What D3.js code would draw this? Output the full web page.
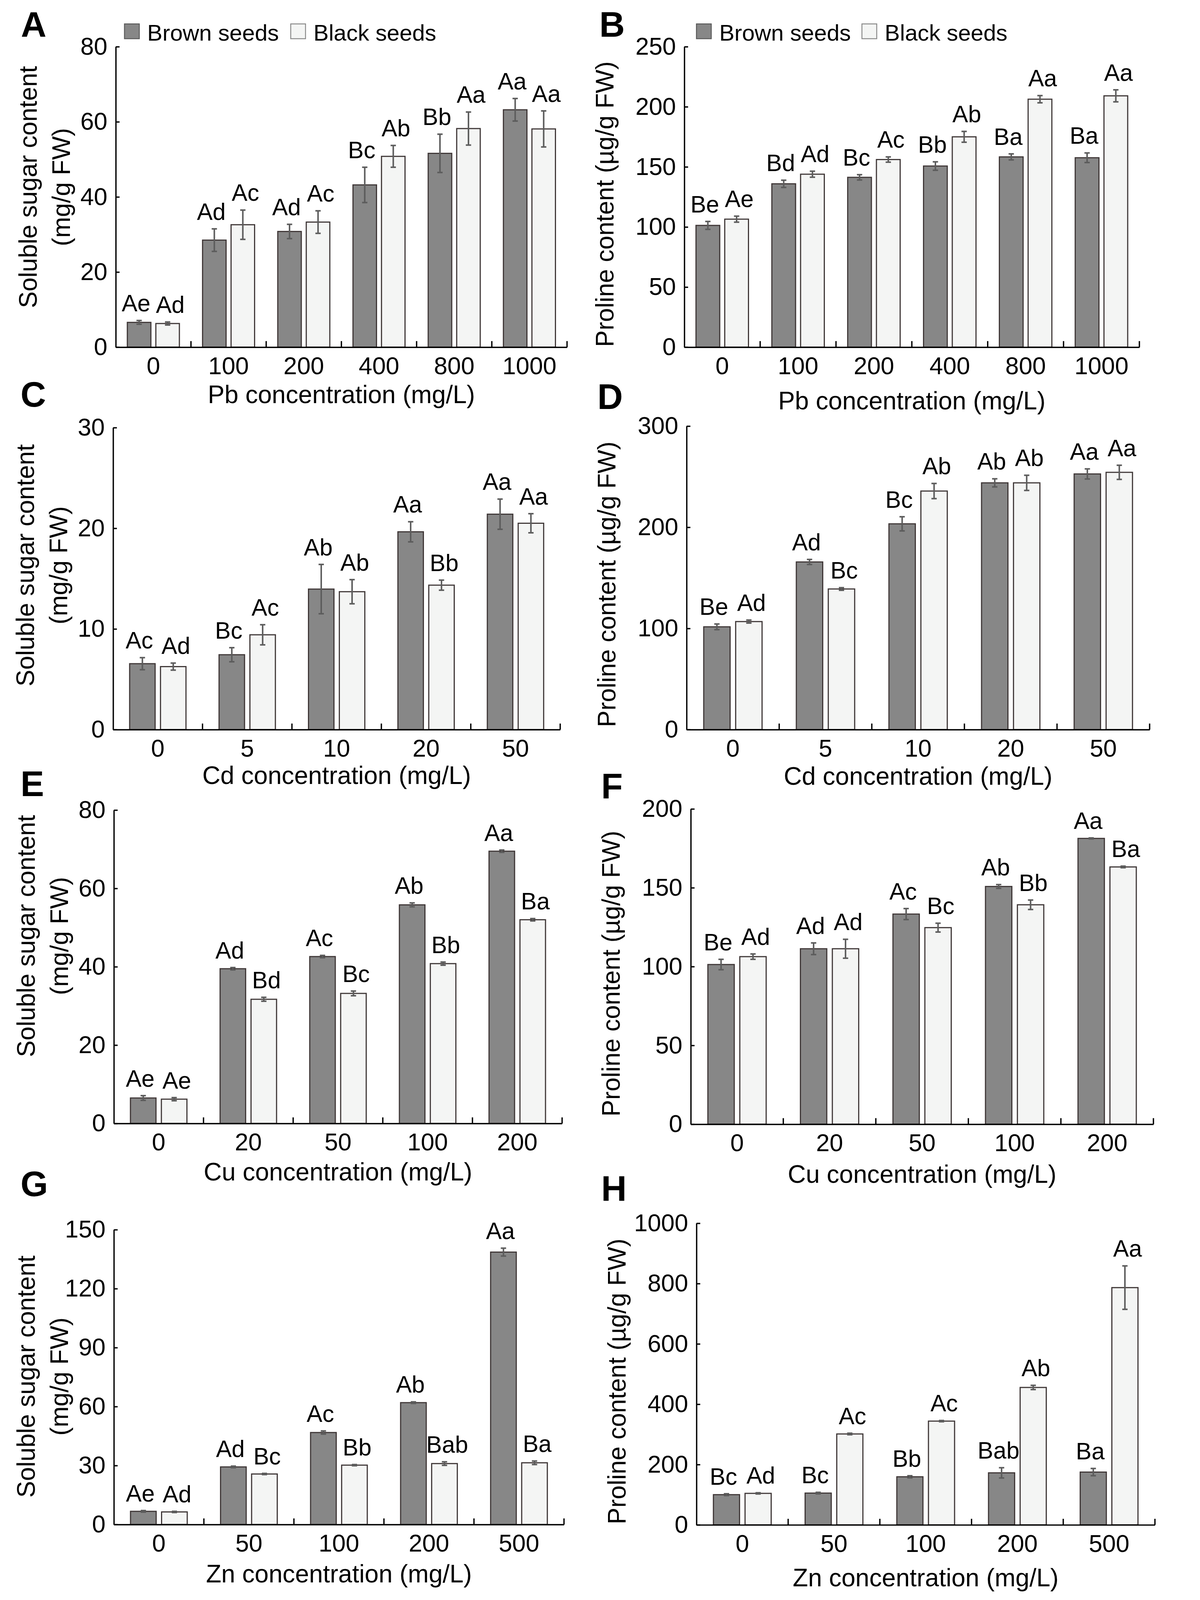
<!DOCTYPE html>
<html>
<head>
<meta charset="utf-8">
<script src="https://cdn.jsdelivr.net/npm/d3@7"></script>
<style>
  html, body { margin: 0; padding: 0; background: #fff; overflow: hidden; }
  #fig { display: block; width: 100vw; height: 100vh; }
  text { font-family: "Liberation Sans", Arial, sans-serif; }
</style>
</head>
<body>
<svg id="fig" viewBox="0 0 3071 4217" preserveAspectRatio="xMinYMin meet"></svg>
<script>
// categories
const pbConc = ["0", "100", "200", "400", "800", "1000"];
const cdConc = ["0", "5", "10", "20", "50"];
const cuConc = ["0", "20", "50", "100", "200"];
const znConc = ["0", "50", "100", "200", "500"];

// y tick labels
const sugarPbTicks = [0, 20, 40, 60, 80];
const prolinePbTicks = [0, 50, 100, 150, 200, 250];
const sugarCdTicks = [0, 10, 20, 30];
const prolineCdTicks = [0, 100, 200, 300];
const sugarCuTicks = [0, 20, 40, 60, 80];
const prolineCuTicks = [0, 50, 100, 150, 200];
const sugarZnTicks = [0, 30, 60, 90, 120, 150];
const prolineZnTicks = [0, 200, 400, 600, 800, 1000];

// A: soluble sugar, Pb
const sugarPbBrown = [6.6, 28.5, 30.8, 43.2, 51.6, 63.2];
const sugarPbBrownErr = [0.5, 3.0, 1.9, 4.7, 5.1, 3.0];
const sugarPbBlack = [6.3, 32.6, 33.3, 50.8, 58.2, 58.1];
const sugarPbBlackErr = [0.4, 3.9, 3.0, 2.9, 4.4, 4.8];
const sugarPbBrownSig = ["Ae", "Ad", "Ad", "Bc", "Bb", "Aa"];
const sugarPbBlackSig = ["Ad", "Ac", "Ac", "Ab", "Aa", "Aa"];

// B: proline, Pb
const prolinePbBrown = [101.3, 135.9, 141.3, 150.7, 158.3, 157.6];
const prolinePbBrownErr = [3.3, 3.0, 2.2, 3.5, 2.5, 4.0];
const prolinePbBlack = [106.5, 143.9, 156.1, 175.0, 206.3, 209.1];
const prolinePbBlackErr = [2.5, 2.5, 2.2, 4.5, 3.0, 5.0];
const prolinePbBrownSig = ["Be", "Bd", "Bc", "Bb", "Ba", "Ba"];
const prolinePbBlackSig = ["Ae", "Ad", "Ac", "Ab", "Aa", "Aa"];

// C: soluble sugar, Cd
const sugarCdBrown = [6.55, 7.44, 13.96, 19.65, 21.4];
const sugarCdBrownErr = [0.6, 0.7, 2.45, 1.0, 1.5];
const sugarCdBlack = [6.26, 9.42, 13.7, 14.35, 20.5];
const sugarCdBlackErr = [0.35, 1.0, 1.2, 0.5, 0.95];
const sugarCdBrownSig = ["Ac", "Bc", "Ab", "Aa", "Aa"];
const sugarCdBlackSig = ["Ad", "Ac", "Ab", "Bb", "Aa"];

// D: proline, Cd
const prolineCdBrown = [101.6, 165.7, 203.4, 243.9, 252.7];
const prolineCdBrownErr = [2.8, 2.5, 7.0, 4.0, 5.0];
const prolineCdBlack = [106.8, 139.0, 235.8, 243.9, 254.3];
const prolineCdBlackErr = [1.5, 1.3, 7.5, 7.5, 7.0];
const prolineCdBrownSig = ["Be", "Ad", "Bc", "Ab", "Aa"];
const prolineCdBlackSig = ["Ad", "Bc", "Ab", "Ab", "Aa"];

// E: soluble sugar, Cu
const sugarCuBrown = [6.5, 39.5, 42.6, 55.8, 69.5];
const sugarCuBrownErr = [0.6, 0.3, 0.3, 0.5, 0.3];
const sugarCuBlack = [6.2, 31.7, 33.2, 40.8, 52.0];
const sugarCuBlackErr = [0.4, 0.5, 0.6, 0.4, 0.3];
const sugarCuBrownSig = ["Ae", "Ad", "Ac", "Ab", "Aa"];
const sugarCuBlackSig = ["Ae", "Bd", "Bc", "Bb", "Ba"];

// F: proline, Cu
const prolineCuBrown = [101.3, 111.3, 133.3, 150.8, 181.3];
const prolineCuBrownErr = [3.3, 3.7, 3.5, 1.2, 0.3];
const prolineCuBlack = [106.3, 111.3, 124.7, 139.2, 163.2];
const prolineCuBlackErr = [1.7, 6.0, 2.8, 3.0, 0.5];
const prolineCuBrownSig = ["Be", "Ad", "Ac", "Ab", "Aa"];
const prolineCuBlackSig = ["Ad", "Ad", "Bc", "Bb", "Ba"];

// G: soluble sugar, Zn
const sugarZnBrown = [6.7, 29.3, 46.8, 62.0, 138.6];
const sugarZnBrownErr = [0.4, 0.4, 0.8, 0.4, 2.0];
const sugarZnBlack = [6.4, 25.7, 30.2, 31.0, 31.4];
const sugarZnBlackErr = [0.3, 0.3, 0.3, 0.9, 0.9];
const sugarZnBrownSig = ["Ae", "Ad", "Ac", "Ab", "Aa"];
const sugarZnBlackSig = ["Ad", "Bc", "Bb", "Bab", "Ba"];

// H: proline, Zn
const prolineZnBrown = [100.2, 105.4, 159.4, 172.5, 175.0];
const prolineZnBrownErr = [3.0, 2.5, 3.5, 17, 12];
const prolineZnBlack = [104.5, 301.4, 344.0, 455.6, 786.6];
const prolineZnBlackErr = [2.0, 2.5, 2.0, 7.0, 72];
const prolineZnBrownSig = ["Bc", "Bc", "Bb", "Bab", "Ba"];
const prolineZnBlackSig = ["Ad", "Ac", "Ac", "Ab", "Aa"];

const series = ["Brown seeds", "Black seeds"];

const sugarTitle = ["Soluble sugar content", "(mg/g FW)"];
const prolineTitle = ["Proline content (\u00b5g/g FW)"];

// layout of each panel (pixels)
const panels = [
  { tag: "A", cats: pbConc, ticks: sugarPbTicks, vals: [sugarPbBrown, sugarPbBlack], errs: [sugarPbBrownErr, sugarPbBlackErr], sig: [sugarPbBrownSig, sugarPbBlackSig],
    yTitle: sugarTitle, xTitle: "Pb concentration (mg/L)", left: 305, right: 1494, top: 123, bottom: 915, xTitleY: 1063, yTitleMid: 493, tagX: 55, tagY: 97, legend: [328, 766] },
  { tag: "B", cats: pbConc, ticks: prolinePbTicks, vals: [prolinePbBrown, prolinePbBlack], errs: [prolinePbBrownErr, prolinePbBlackErr], sig: [prolinePbBrownSig, prolinePbBlackSig],
    yTitle: prolineTitle, xTitle: "Pb concentration (mg/L)", left: 1803, right: 3002, top: 123, bottom: 915, xTitleY: 1079, yTitleMid: 538, tagX: 1579, tagY: 97, legend: [1835, 2271] },
  { tag: "C", cats: cdConc, ticks: sugarCdTicks, vals: [sugarCdBrown, sugarCdBlack], errs: [sugarCdBrownErr, sugarCdBlackErr], sig: [sugarCdBrownSig, sugarCdBlackSig],
    yTitle: sugarTitle, xTitle: "Cd concentration (mg/L)", left: 298, right: 1476, top: 1127, bottom: 1923, xTitleY: 2066, yTitleMid: 1490, tagX: 54, tagY: 1072 },
  { tag: "D", cats: cdConc, ticks: prolineCdTicks, vals: [prolineCdBrown, prolineCdBlack], errs: [prolineCdBrownErr, prolineCdBlackErr], sig: [prolineCdBrownSig, prolineCdBlackSig],
    yTitle: prolineTitle, xTitle: "Cd concentration (mg/L)", left: 1809, right: 3029, top: 1123, bottom: 1923, xTitleY: 2068, yTitleMid: 1540, tagX: 1574, tagY: 1078 },
  { tag: "E", cats: cuConc, ticks: sugarCuTicks, vals: [sugarCuBrown, sugarCuBlack], errs: [sugarCuBrownErr, sugarCuBlackErr], sig: [sugarCuBrownSig, sugarCuBlackSig],
    yTitle: sugarTitle, xTitle: "Cu concentration (mg/L)", left: 300, right: 1481, top: 2135, bottom: 2961, xTitleY: 3111, yTitleMid: 2467, tagX: 54, tagY: 2098 },
  { tag: "F", cats: cuConc, ticks: prolineCuTicks, vals: [prolineCuBrown, prolineCuBlack], errs: [prolineCuBrownErr, prolineCuBlackErr], sig: [prolineCuBrownSig, prolineCuBlackSig],
    yTitle: prolineTitle, xTitle: "Cu concentration (mg/L)", left: 1820, right: 3039, top: 2132, bottom: 2963, xTitleY: 3117, yTitleMid: 2566, tagX: 1584, tagY: 2104 },
  { tag: "G", cats: znConc, ticks: sugarZnTicks, vals: [sugarZnBrown, sugarZnBlack], errs: [sugarZnBrownErr, sugarZnBlackErr], sig: [sugarZnBrownSig, sugarZnBlackSig],
    yTitle: sugarTitle, xTitle: "Zn concentration (mg/L)", left: 300, right: 1486, top: 3241, bottom: 4018, xTitleY: 4171, yTitleMid: 3628, tagX: 54, tagY: 3152 },
  { tag: "H", cats: znConc, ticks: prolineZnTicks, vals: [prolineZnBrown, prolineZnBlack], errs: [prolineZnBrownErr, prolineZnBlackErr], sig: [prolineZnBrownSig, prolineZnBlackSig],
    yTitle: prolineTitle, xTitle: "Zn concentration (mg/L)", left: 1835, right: 3043, top: 3224, bottom: 4019, xTitleY: 4181, yTitleMid: 3641, tagX: 1584, tagY: 3165 }
];

const fills = ["#878787", "#f4f5f4"];
const barStroke = "#3e3636";
const errColor = "#5c5c5c";
const fontFam = "'Liberation Sans', Arial, sans-serif";
// letters sit a little apart from their bar centre
const sigNudge = [-8, 7];

const svg = d3.select("#fig");
svg.append("rect").attr("width", 3071).attr("height", 4217).attr("fill", "#fff");

panels.forEach((p) => {
  const g = svg.append("g").attr("class", "panel");
  const n = p.cats.length;
  // bar width / gap as a share of the category band
  const barFrac = n === 6 ? 0.313 : 0.285;
  const gapFrac = n === 6 ? 0.066 : 0.06;

  const x = d3.scaleBand().domain(p.cats).range([p.left, p.right]);
  const bw = x.bandwidth();
  const inner = gapFrac / (barFrac + gapFrac);
  const outer = (1 / (barFrac + gapFrac) - 2 + inner) / 2;
  const xs = d3.scaleBand().domain([0, 1]).range([0, bw]).paddingInner(inner).paddingOuter(outer);

  const yMax = d3.max(p.ticks);
  const y = d3.scaleLinear().domain([0, yMax]).range([p.bottom, p.top]);

  // bars
  [0, 1].forEach((s) => {
    const rows = p.cats.map((c, i) => ({ c, v: p.vals[s][i], e: p.errs[s][i], t: p.sig[s][i] }));
    const sg = g.append("g");
    sg.selectAll("rect.bar")
      .data(rows)
      .enter()
      .append("rect")
      .attr("class", "bar")
      .attr("x", (d) => x(d.c) + xs(s))
      .attr("y", (d) => y(d.v))
      .attr("width", xs.bandwidth())
      .attr("height", (d) => y(0) - y(d.v))
      .attr("fill", fills[s])
      .attr("stroke", barStroke)
      .attr("stroke-width", 3);

    const cx = (d) => x(d.c) + xs(s) + xs.bandwidth() / 2;
    const eb = sg.selectAll("g.err").data(rows).enter().append("g").attr("class", "err")
      .attr("stroke", errColor).attr("stroke-width", 4);
    eb.append("line").attr("x1", cx).attr("x2", cx)
      .attr("y1", (d) => y(d.v - d.e)).attr("y2", (d) => y(d.v + d.e));
    eb.append("line").attr("x1", (d) => cx(d) - 7).attr("x2", (d) => cx(d) + 7)
      .attr("y1", (d) => y(d.v + d.e)).attr("y2", (d) => y(d.v + d.e));
    eb.append("line").attr("x1", (d) => cx(d) - 7).attr("x2", (d) => cx(d) + 7)
      .attr("y1", (d) => y(d.v - d.e)).attr("y2", (d) => y(d.v - d.e));

    sg.selectAll("text.sig")
      .data(rows)
      .enter()
      .append("text")
      .attr("class", "sig")
      .attr("x", (d) => cx(d) + sigNudge[s])
      .attr("y", (d) => y(d.v + d.e) - 24)
      .attr("text-anchor", "middle")
      .style("font-size", "62px")
      .text((d) => d.t);
  });

  // y axis, ticks pointing inwards
  const yAxis = g.append("g")
    .attr("transform", `translate(${p.left},0)`)
    .call(d3.axisLeft(y).tickValues(p.ticks).tickFormat(d3.format("d"))
      .tickSizeInner(-10).tickSizeOuter(0).tickPadding(22));
  yAxis.select(".domain").attr("stroke", "#000").attr("stroke-width", 3.5);
  yAxis.selectAll(".tick line").attr("stroke", "#000").attr("stroke-width", 3.5);
  yAxis.selectAll(".tick text").style("font-size", "64px").style("font-family", fontFam).attr("fill", "#000");

  // x axis with ticks between groups
  const xAxis = g.append("g")
    .attr("transform", `translate(0,${p.bottom})`)
    .call(d3.axisBottom(x).tickSize(0).tickPadding(26));
  xAxis.select(".domain").attr("stroke", "#000").attr("stroke-width", 3.5);
  xAxis.selectAll(".tick text").style("font-size", "64px").style("font-family", fontFam).attr("fill", "#000");
  xAxis.selectAll("line.sep")
    .data(p.cats)
    .enter()
    .append("line")
    .attr("class", "sep")
    .attr("x1", (d) => x(d) + bw)
    .attr("x2", (d) => x(d) + bw)
    .attr("y1", 0)
    .attr("y2", -16)
    .attr("stroke", "#000")
    .attr("stroke-width", 3.5);

  // axis titles
  g.append("text")
    .attr("x", (p.left + p.right) / 2)
    .attr("y", p.xTitleY)
    .attr("text-anchor", "middle")
    .style("font-size", "66px")
    .text(p.xTitle);

  const offs = p.yTitle.length === 2 ? [-208, -121] : [-187];
  p.yTitle.forEach((t, i) => {
    g.append("text")
      .attr("transform", `translate(${p.left + offs[i]},${p.yTitleMid}) rotate(-90)`)
      .attr("text-anchor", "middle")
      .style("font-size", "66px")
      .text(t);
  });

  // panel tag
  g.append("text")
    .attr("x", p.tagX)
    .attr("y", p.tagY)
    .style("font-size", "93px")
    .style("font-weight", "bold")
    .text(p.tag);

  // legend
  if (p.legend) {
    p.legend.forEach((lx, s) => {
      g.append("rect")
        .attr("x", lx)
        .attr("y", 63)
        .attr("width", 39)
        .attr("height", 39)
        .attr("fill", fills[s])
        .attr("stroke", s === 0 ? "#5a5a5a" : "#8a8a8a")
        .attr("stroke-width", 2.5);
      g.append("text")
        .attr("x", lx + 60)
        .attr("y", 107)
        .style("font-size", "60px")
        .text(series[s]);
    });
  }
});
</script>
</body>
</html>
